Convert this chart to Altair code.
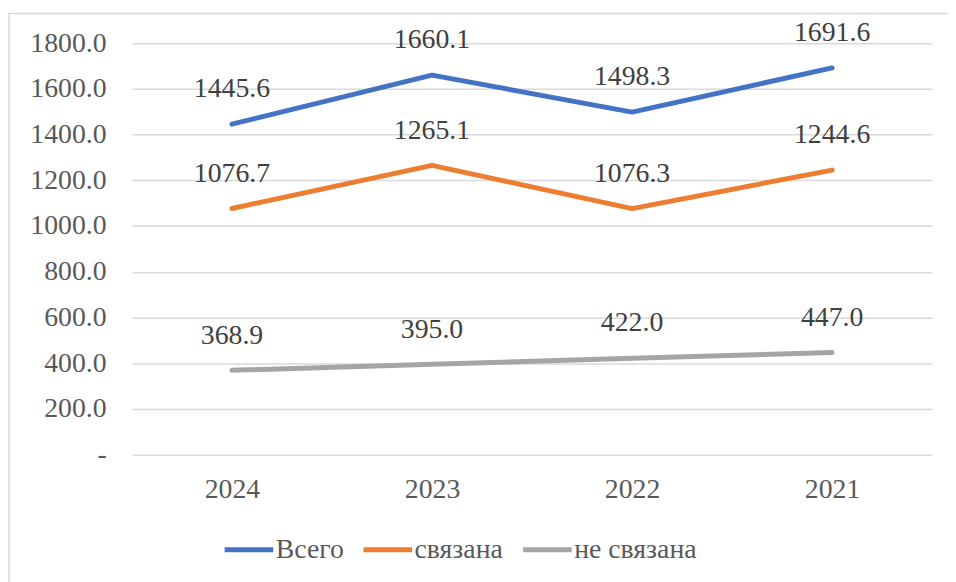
import altair as alt
import pandas as pd

years = ["2024", "2023", "2022", "2021"]
series_names = ["Всего", "связана", "не связана"]
vsego = [1445.6, 1660.1, 1498.3, 1691.6]
svyazana = [1076.7, 1265.1, 1076.3, 1244.6]
ne_svyazana = [368.9, 395.0, 422.0, 447.0]
colors = ["#4472C4", "#ED7D31", "#A5A5A5"]

rows = []
for name, vals in zip(series_names, [vsego, svyazana, ne_svyazana]):
    for y, v in zip(years, vals):
        rows.append({"year": y, "series": name, "value": v})
df = pd.DataFrame(rows)

FONT = "Liberation Serif"
W, H = 807, 415

x = alt.X("year:N", sort=years, scale=alt.Scale(type="point", padding=0.5),
          axis=alt.Axis(title=None, domain=False, ticks=False, grid=False,
                        labelAngle=0, labelPadding=21, labelFontSize=28,
                        labelFont=FONT, labelColor="#595959"))
y = alt.Y("value:Q", scale=alt.Scale(domain=[0, 1800], nice=False),
          axis=alt.Axis(title=None, domain=False, ticks=False,
                        values=list(range(0, 1801, 200)),
                        labelExpr="datum.value == 0 ? '-' : format(datum.value, '.1f')",
                        labelPadding=26, labelFontSize=28, labelFont=FONT,
                        labelColor="#595959", gridColor="#D9D9D9", gridWidth=1.5))

color = alt.Color("series:N", sort=series_names,
                  scale=alt.Scale(domain=series_names, range=colors),
                  legend=alt.Legend(title=None, orient="none", direction="horizontal",
                                    legendX=91, legendY=484, symbolType="stroke",
                                    symbolSize=2401, symbolStrokeWidth=5,
                                    labelFontSize=28, labelFont=FONT,
                                    labelColor="#595959", labelOffset=0,
                                    columnPadding=9, padding=0))

base = alt.Chart(df)
lines = base.mark_line(strokeWidth=5, strokeCap="round", strokeJoin="round").encode(
    x=x, y=y, color=color, detail="series:N")
labels = base.mark_text(dy=-35, fontSize=28, font=FONT, fill="#404040",
                        baseline="middle").encode(
    x=alt.X("year:N", sort=years), y="value:Q", text=alt.Text("value:Q", format=".1f"))

frame = alt.Chart(pd.DataFrame({"a": [0]})).mark_rect(
    fill=None, stroke="#D9D9D9", strokeWidth=1.5).encode(
    x=alt.value(-124), x2=alt.value(W + 200), y=alt.value(-30), y2=alt.value(H + 300))

chart = alt.layer(frame, lines, labels).properties(
    width=W, height=H,
    autosize=alt.AutoSizeParams(type="none"),
    padding={"left": 125, "top": 33, "right": 16, "bottom": 126},
).configure_view(stroke=None)

chart.save("out.html", embed_options={"renderer": "svg", "actions": False})
